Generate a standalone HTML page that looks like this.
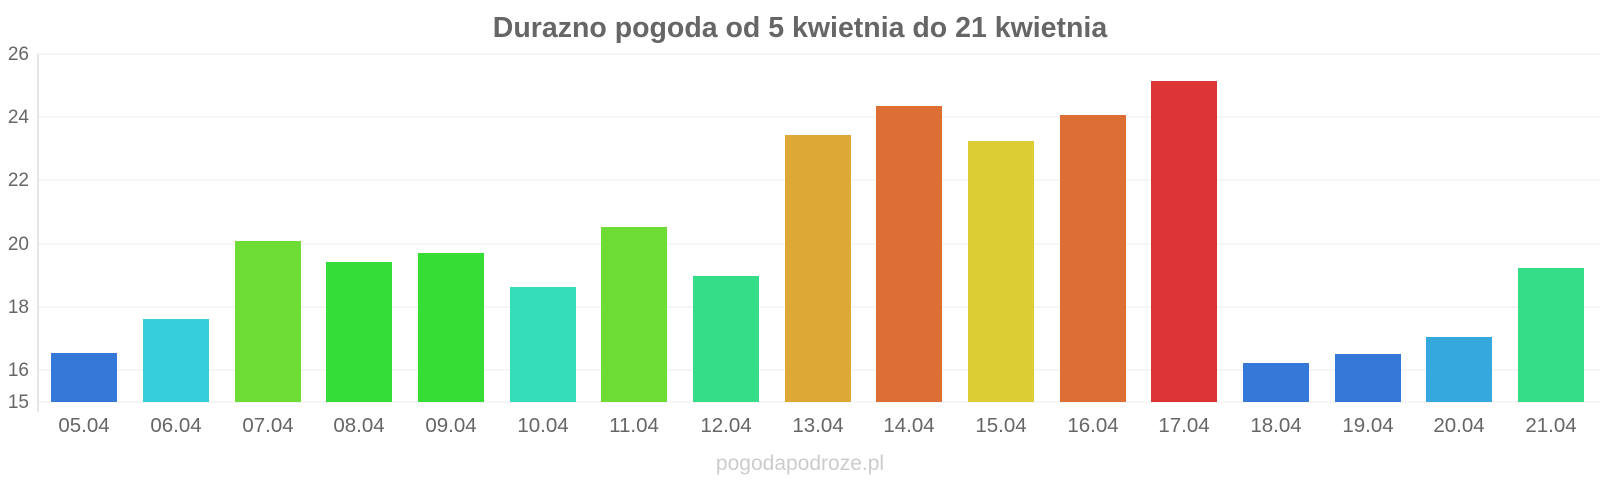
<!DOCTYPE html>
<html><head><meta charset="utf-8"><style>
html,body{margin:0;padding:0;background:#fff;}
svg{display:block;font-family:"Liberation Sans",sans-serif;}
</style></head><body>
<svg width="1600" height="480" viewBox="0 0 1600 480">
<text x="800" y="37" text-anchor="middle" font-size="28.5" font-weight="bold" fill="#666">Durazno pogoda od 5 kwietnia do 21 kwietnia</text>
<g stroke="#eee" stroke-width="1">
<line x1="38" x2="1600" y1="54" y2="54"/>
<line x1="38" x2="1600" y1="117" y2="117"/>
<line x1="38" x2="1600" y1="180" y2="180"/>
<line x1="38" x2="1600" y1="244" y2="244"/>
<line x1="38" x2="1600" y1="307" y2="307"/>
<line x1="38" x2="1600" y1="370" y2="370"/>
<line x1="38" x2="1600" y1="402" y2="402"/>
</g>
<line x1="38" x2="38" y1="54" y2="412" stroke="#ccc"/>
<g font-size="19" fill="#666" text-anchor="end">
<text x="29" y="60">26</text><text x="29" y="123">24</text><text x="29" y="186">22</text>
<text x="29" y="250">20</text><text x="29" y="313">18</text><text x="29" y="376">16</text><text x="29" y="408">15</text>
</g>
<g>
<rect x="51" y="353" width="66" height="49" fill="#3578d8"/>
<rect x="143" y="319" width="66" height="83" fill="#35cfdc"/>
<rect x="235" y="241" width="66" height="161" fill="#6ddd35"/>
<rect x="326" y="262" width="66" height="140" fill="#35dd38"/>
<rect x="418" y="253" width="66" height="149" fill="#35dd35"/>
<rect x="510" y="287" width="66" height="115" fill="#35ddbb"/>
<rect x="601" y="227" width="66" height="175" fill="#6ddd35"/>
<rect x="693" y="276" width="66" height="126" fill="#35dd88"/>
<rect x="785" y="135" width="66" height="267" fill="#dda835"/>
<rect x="876" y="106" width="66" height="296" fill="#dd6f35"/>
<rect x="968" y="141" width="66" height="261" fill="#ddcd35"/>
<rect x="1060" y="115" width="66" height="287" fill="#dd6f35"/>
<rect x="1151" y="81" width="66" height="321" fill="#dd3535"/>
<rect x="1243" y="363" width="66" height="39" fill="#3578d8"/>
<rect x="1335" y="354" width="66" height="48" fill="#3578d8"/>
<rect x="1426" y="337" width="66" height="65" fill="#35a8dd"/>
<rect x="1518" y="268" width="66" height="134" fill="#35dd88"/>
</g>
<g font-size="20.5" fill="#666" text-anchor="middle">
<text x="84" y="432">05.04</text><text x="176" y="432">06.04</text><text x="268" y="432">07.04</text>
<text x="359" y="432">08.04</text><text x="451" y="432">09.04</text><text x="543" y="432">10.04</text>
<text x="634" y="432">11.04</text><text x="726" y="432">12.04</text><text x="818" y="432">13.04</text>
<text x="909" y="432">14.04</text><text x="1001" y="432">15.04</text><text x="1093" y="432">16.04</text>
<text x="1184" y="432">17.04</text><text x="1276" y="432">18.04</text><text x="1368" y="432">19.04</text>
<text x="1459" y="432">20.04</text><text x="1551" y="432">21.04</text>
</g>
<text x="800" y="470" text-anchor="middle" font-size="21" fill="#ccc">pogodapodroze.pl</text>
</svg>
</body></html>
